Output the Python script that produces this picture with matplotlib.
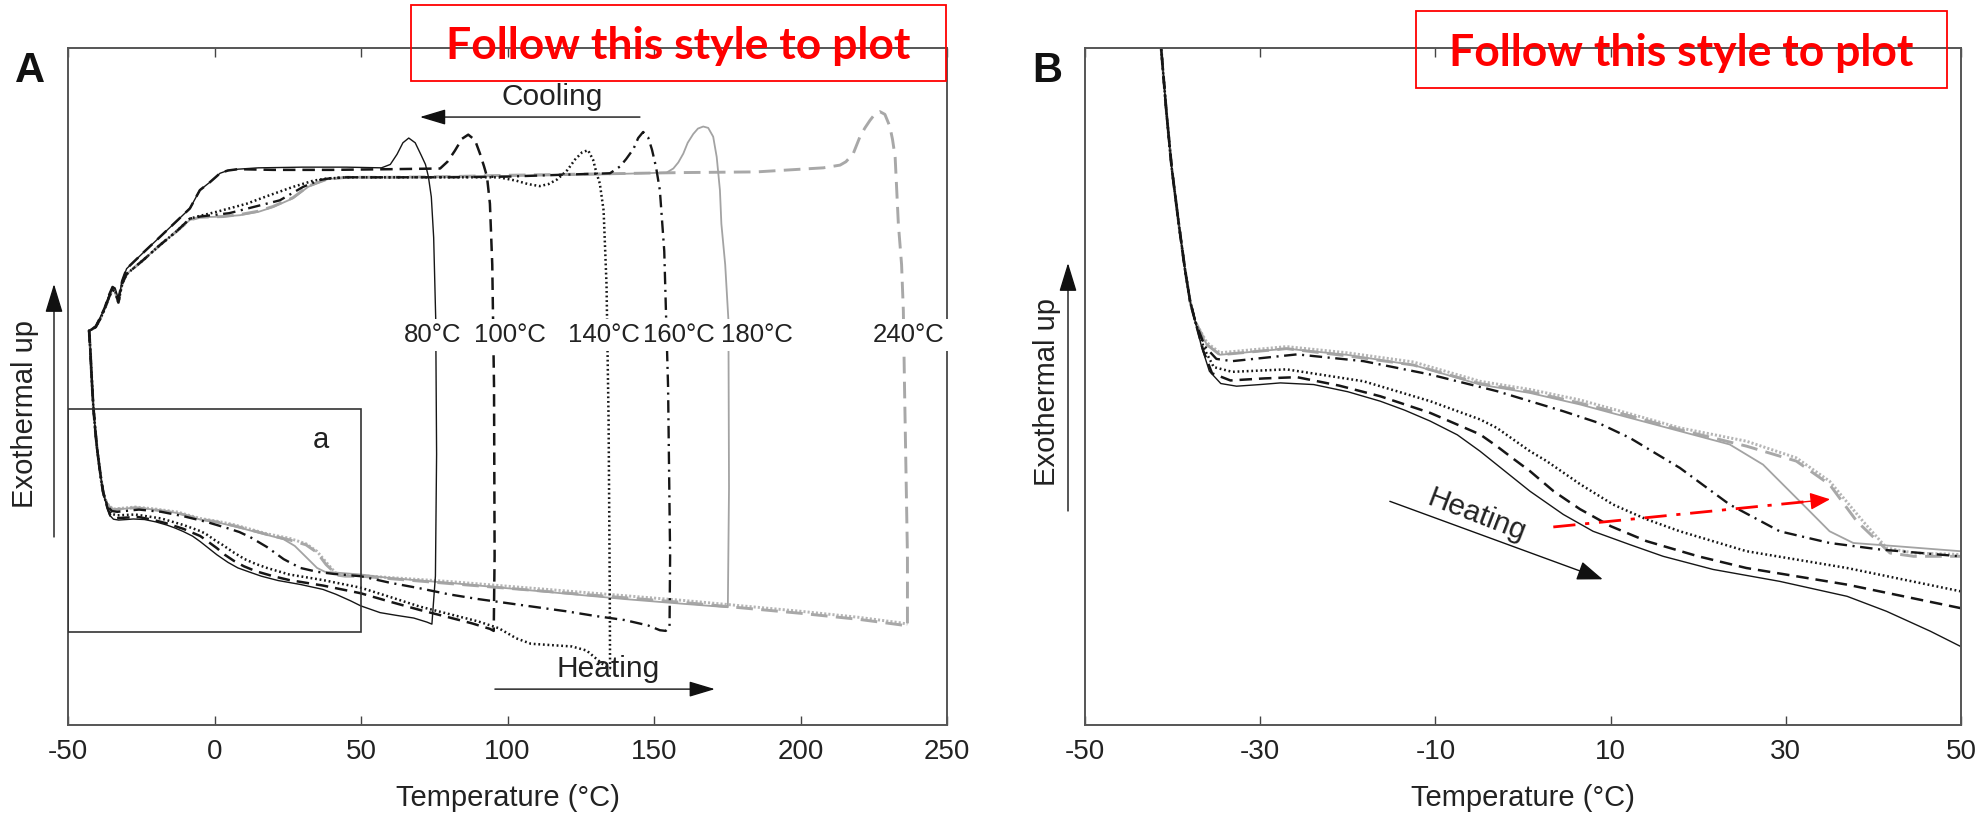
import matplotlib
matplotlib.use("Agg")
import matplotlib.pyplot as plt
from matplotlib.patches import Rectangle, FancyArrowPatch

plt.rcParams['font.family'] = ['Liberation Sans', 'DejaVu Sans']
plt.rcParams['lines.scale_dashes'] = False

# ---------------- data (temperature in degC, heat flow in arbitrary units) -------------
heat80_T = [-42.8, -42.4, -42.0, -41.6, -41.3, -40.7, -40.1, -39.3, -38.6, -38.0, -37.4, -36.7, -35.8, -34.5, -32.7, -30.0, -27.7, -23.9, -20.0, -16.3, -13.5, -10.6, -7.5, -4.9, -1.1, 0.8, 4.6, 8.0, 12.2, 16.0, 21.7, 29.3, 37.0, 41.5, 46.5, 49.9, 56.5, 62.0, 68.0, 72.5, 74.2]
heat80_Y = [58.3, 55.5, 52.0, 48.8, 46.7, 43.6, 40.9, 38.2, 36.0, 34.4, 33.4, 32.2, 31.0, 30.4, 30.27, 30.35, 30.43, 30.35, 30.0, 29.54, 29.1, 28.57, 27.9, 27.1, 25.8, 25.15, 24.02, 23.2, 22.55, 21.98, 21.34, 20.76, 20.03, 19.30, 18.33, 17.6, 16.6, 16.2, 15.8, 15.2, 14.9]

heat100_T = [-42.8, -42.4, -42.0, -41.6, -41.3, -40.7, -40.1, -39.3, -38.6, -38.0, -37.4, -36.5, -35.5, -33.4, -29.5, -25.8, -21.0, -16.3, -10.6, -4.9, -3.0, -1.0, 0.8, 3.5, 6.5, 10.0, 14.1, 20.0, 25.5, 37.0, 49.9, 60.0, 70.0, 80.0, 88.0, 94.0, 95.3]
heat100_Y = [58.3, 55.5, 52.0, 48.8, 46.7, 43.6, 40.9, 38.2, 36.0, 34.4, 33.4, 32.0, 30.9, 30.55, 30.65, 30.71, 30.3, 29.78, 28.97, 27.92, 27.35, 26.7, 26.13, 25.15, 24.28, 23.45, 22.72, 21.98, 21.41, 20.60, 19.46, 18.2, 17.0, 15.9, 15.0, 14.2, 13.9]

heat140_T = [-42.8, -42.4, -42.0, -41.6, -41.3, -40.7, -40.1, -39.3, -38.6, -38.0, -37.4, -36.4, -35.3, -33.2, -27.0, -18.2, -10.6, -4.9, -3.0, 0.8, 2.7, 6.5, 10.3, 14.0, 17.9, 25.5, 37.0, 49.9, 60.0, 70.0, 80.0, 90.0, 97.0, 103.0, 108.0, 115.0, 122.0, 127.0, 130.0, 133.0, 135.0]
heat140_Y = [58.3, 55.5, 52.0, 48.8, 46.7, 43.6, 40.9, 38.2, 36.0, 34.4, 33.4, 32.1, 31.2, 30.97, 31.09, 30.51, 29.54, 28.65, 28.24, 27.10, 26.62, 25.5, 24.50, 23.8, 23.20, 22.23, 21.41, 20.28, 18.9, 17.5, 16.4, 15.3, 14.3, 12.8, 12.0, 11.8, 11.6, 11.0, 9.9, 8.8, 8.4]

heat160_T = [-42.8, -42.4, -42.0, -41.6, -41.3, -40.7, -40.1, -39.3, -38.6, -38.0, -37.4, -36.3, -35.0, -33.2, -25.8, -18.2, -10.6, -3.0, 0.8, 4.6, 8.5, 12.2, 17.9, 23.6, 29.3, 35.0, 40.8, 49.9, 60.0, 70.0, 80.0, 90.0, 100.0, 110.0, 120.0, 130.0, 140.0, 148.0, 152.0, 154.0, 155.3]
heat160_Y = [58.3, 55.5, 52.0, 48.8, 46.7, 43.6, 40.9, 38.2, 36.0, 34.4, 33.4, 32.2, 31.6, 31.49, 31.82, 31.49, 30.84, 30.03, 29.54, 29.05, 28.5, 27.75, 26.29, 24.50, 23.20, 22.63, 22.31, 21.98, 21.0, 20.2, 19.3, 18.6, 18.0, 17.4, 16.8, 16.1, 15.5, 14.7, 14.0, 13.9, 14.4]

heat180_T = [-42.8, -42.4, -42.0, -41.6, -41.3, -40.7, -40.1, -39.3, -38.6, -38.0, -37.4, -36.1, -34.6, -27.0, -20.1, -12.5, -4.9, 0.8, 6.5, 12.0, 17.9, 23.6, 27.4, 31.2, 35.0, 37.7, 42.7, 49.9, 60.0, 80.0, 100.0, 120.0, 140.0, 160.0, 172.0, 175.2]
heat180_Y = [58.3, 55.5, 52.0, 48.8, 46.7, 43.6, 40.9, 38.2, 36.0, 34.4, 33.4, 32.3, 31.8, 32.1, 31.8, 31.3, 30.35, 29.94, 29.38, 28.75, 28.08, 27.43, 26.45, 24.83, 23.20, 22.63, 22.47, 22.23, 21.7, 21.0, 20.2, 19.4, 18.6, 17.9, 17.5, 17.4]

heat240_T = [-42.8, -42.4, -42.0, -41.6, -41.3, -40.7, -40.1, -39.3, -38.6, -38.0, -37.4, -36.1, -34.6, -27.0, -20.1, -12.5, -4.9, 0.8, 6.5, 12.0, 17.9, 25.5, 31.2, 35.0, 38.1, 41.9, 44.6, 49.9, 80.0, 120.0, 160.0, 200.0, 220.0, 234.0, 236.5]
heat240_Y = [58.3, 55.5, 52.0, 48.8, 46.7, 43.6, 40.9, 38.2, 36.0, 34.4, 33.4, 32.3, 31.8, 32.1, 31.75, 31.3, 30.4, 30.0, 29.45, 28.85, 28.15, 27.35, 26.62, 25.48, 23.69, 22.14, 21.98, 21.98, 20.9, 19.5, 18.1, 16.5, 15.6, 14.8, 14.6]

heatdot_T = [-42.8, -42.4, -42.0, -41.6, -41.3, -40.7, -40.1, -39.3, -38.6, -38.0, -37.4, -36.1, -34.6, -27.0, -20.1, -12.5, -4.9, 0.8, 6.5, 12.0, 17.9, 25.5, 31.2, 35.0, 38.8, 41.5, 44.6, 49.9, 80.0, 120.0, 160.0, 200.0, 220.0, 234.0, 236.5]
heatdot_Y = [58.3, 55.5, 52.0, 48.8, 46.7, 43.6, 40.9, 38.2, 36.0, 34.4, 33.4, 32.4, 31.9, 32.2, 31.9, 31.45, 30.51, 30.11, 29.6, 28.95, 28.24, 27.59, 26.78, 25.64, 23.69, 22.39, 22.14, 22.07, 21.2, 19.8, 18.4, 16.8, 15.9, 15.1, 14.9]

cool80_T = [75.4, 75.8, 75.5, 74.8, 74.0, 73.0, 72.0, 70.5, 68.5, 66.3, 64.3, 62.3, 60.0, 57.0, 45.0, 30.0, 15.0]
cool80_Y = [22.0, 40.0, 60.0, 72.0, 78.0, 81.0, 82.8, 84.2, 86.0, 86.7, 86.0, 84.3, 82.8, 82.3, 82.4, 82.4, 82.3]

cool100_T = [95.6, 95.4, 94.8, 94.0, 93.0, 92.0, 90.6, 88.9, 86.6, 84.5, 82.0, 79.5, 77.0, 60.0, 40.0, 20.0]
cool100_Y = [25.0, 50.0, 68.0, 77.0, 81.0, 82.5, 84.4, 86.4, 87.2, 86.6, 84.8, 83.2, 82.2, 82.1, 82.0, 82.0]

cool140_T = [134.9, 134.5, 133.8, 132.8, 131.5, 130.4, 129.2, 127.5, 125.5, 123.0, 120.5, 117.0, 114.0, 111.0, 107.0, 103.0, 97.0, 80.0, 60.0, 45.0, 38.0, 33.7, 26.9, 17.8, 11.0, 0.7, -5.0, -8.4]
cool140_Y = [20.0, 45.0, 65.0, 76.0, 80.0, 81.5, 83.5, 84.9, 84.6, 83.5, 82.0, 80.6, 79.9, 79.6, 79.9, 80.4, 80.9, 80.9, 80.9, 80.9, 80.7, 80.4, 79.5, 78.1, 77.0, 75.8, 75.2, 74.8]

cool160_T = [155.5, 154.8, 153.5, 152.0, 150.7, 149.3, 148.0, 146.3, 144.6, 143.0, 140.5, 138.4, 135.0, 120.0, 100.0, 80.0, 60.0, 45.0, 40.0, 36.0, 30.3, 22.3, 13.2, 5.0, -5.0, -8.4]
cool160_Y = [25.0, 50.0, 70.0, 79.0, 82.4, 85.0, 86.8, 87.6, 86.7, 85.1, 83.6, 82.5, 81.5, 81.3, 81.0, 80.9, 80.9, 80.9, 80.8, 80.5, 79.5, 77.5, 76.5, 75.6, 75.1, 74.8]

cool180_T = [175.6, 175.4, 174.3, 173.0, 172.5, 171.4, 170.2, 168.5, 166.8, 165.0, 163.4, 161.5, 160.0, 158.3, 156.6, 154.3, 130.0, 100.0, 80.0, 60.0, 45.0, 38.3, 32.0, 26.8, 20.0, 15.0, 8.7, 3.0, -5.0, -8.4]
cool180_Y = [35.0, 59.8, 68.0, 74.0, 79.0, 83.9, 86.9, 88.2, 88.4, 88.1, 87.3, 86.0, 84.4, 83.1, 82.2, 81.6, 81.3, 81.1, 81.0, 80.9, 80.9, 80.6, 79.5, 77.8, 76.5, 75.8, 75.3, 75.1, 75.0, 74.6]

cool240_T = [236.5, 235.5, 235.1, 234.5, 233.4, 232.3, 231.4, 230.5, 228.8, 227.1, 225.5, 223.7, 222.0, 220.3, 218.0, 215.5, 213.5, 207.8, 185.0, 160.0, 130.0, 100.0, 80.0, 60.0, 45.0, 38.3, 32.0, 26.8, 20.0, 15.0, 8.7, 3.0, -5.0, -8.4]
cool240_Y = [25.0, 50.0, 61.2, 68.0, 74.0, 83.9, 86.5, 88.4, 90.2, 90.6, 90.3, 89.3, 88.2, 86.9, 84.4, 83.2, 82.7, 82.3, 81.7, 81.6, 81.4, 81.2, 81.0, 80.9, 80.9, 80.6, 79.6, 77.9, 76.6, 75.9, 75.4, 75.1, 75.0, 74.6]

black_left_T = [8.0, 4.5, 1.9, -1.5, -5.0, -8.4, -13.0, -18.6, -24.0, -30.0, -31.5, -32.8, -33.8, -34.8, -36.0, -37.5, -39.0, -40.5, -42.0, -42.8]
black_left_Y = [82.1, 81.9, 81.5, 80.2, 79.0, 76.3, 74.4, 72.1, 69.9, 67.4, 65.6, 62.9, 64.4, 64.7, 63.5, 61.6, 60.2, 58.9, 58.4, 58.3]

gray_left_T = [-13.0, -18.6, -24.0, -30.0, -31.5, -32.8, -33.8, -34.8, -36.0, -37.5, -39.0, -40.5, -42.0, -42.8]
gray_left_Y = [72.9, 70.9, 68.8, 66.6, 65.2, 62.4, 63.9, 64.3, 63.2, 61.4, 60.0, 58.8, 58.4, 58.3]

peak_labels = ['80\u00b0C', '100\u00b0C', '140\u00b0C', '160\u00b0C', '180\u00b0C', '240\u00b0C']
peak_label_T = [74.5, 101.0, 133.0, 158.5, 185.0, 237.0]

ticksA = [-50, 0, 50, 100, 150, 200, 250]
ticklabelsA = ['-50', '0', '50', '100', '150', '200', '250']
ticksB = [-50, -30, -10, 10, 30, 50]
ticklabelsB = ['-50', '-30', '-10', '10', '30', '50']

# ---------------- styles -------------------
BLK = '#161616'
st80 = dict(color=BLK, lw=1.0, ls='-')
st100 = dict(color=BLK, lw=1.8, dashes=(9, 5))
st140 = dict(color=BLK, lw=1.8, dashes=(1.3, 2.0))
st160 = dict(color=BLK, lw=1.7, dashes=(9, 4, 1.5, 4))
st180 = dict(color='#a3a3a3', lw=1.3, ls='-')
st240 = dict(color='#a8a8a8', lw=2.1, dashes=(12, 6))
stdot = dict(color='#b5b5b5', lw=2.1, dashes=(1.5, 1.5))

W, H = 1980, 815
fig = plt.figure(figsize=(W / 100, H / 100), dpi=100)
fig.patch.set_facecolor('white')

axA = fig.add_axes([68 / W, 1 - 725 / H, 879 / W, 677 / H])
axB = fig.add_axes([1085 / W, 1 - 725 / H, 876 / W, 677 / H])

# panel A loops (gray first, black on top)
axA.plot(heatdot_T, heatdot_Y, **stdot)
axA.plot(heat240_T + cool240_T + gray_left_T, heat240_Y + cool240_Y + gray_left_Y, **st240)
axA.plot(heat180_T + cool180_T + gray_left_T, heat180_Y + cool180_Y + gray_left_Y, **st180)
axA.plot(heat160_T + cool160_T + gray_left_T, heat160_Y + cool160_Y + gray_left_Y, **st160)
axA.plot(heat140_T + cool140_T + gray_left_T, heat140_Y + cool140_Y + gray_left_Y, **st140)
axA.plot(heat100_T + cool100_T + black_left_T, heat100_Y + cool100_Y + black_left_Y, **st100)
axA.plot(heat80_T + cool80_T + black_left_T, heat80_Y + cool80_Y + black_left_Y, **st80)

# panel B: heating curves magnified
axB.plot(heatdot_T, heatdot_Y, **stdot)
axB.plot(heat240_T, heat240_Y, **st240)
axB.plot(heat180_T, heat180_Y, **st180)
axB.plot(heat160_T, heat160_Y, **st160)
axB.plot(heat140_T, heat140_Y, **st140)
axB.plot(heat100_T, heat100_Y, **st100)
axB.plot(heat80_T, heat80_Y, **st80)

axA.set_xlim(-50, 250)
axA.set_ylim(0, 100)
axB.set_xlim(-50, 50)
axB.set_ylim(13.76, 46.75)

for ax, tk, tl in ((axA, ticksA, ticklabelsA), (axB, ticksB, ticklabelsB)):
    ax.set_xticks(tk)
    ax.set_xticklabels(tl)
    ax.set_yticks([])
    ax.tick_params(axis='x', direction='in', length=6.5, width=1.0, top=True,
                   labelsize=20, pad=10, color='#444444', labelcolor='#222222')
    for sp in ax.spines.values():
        sp.set_color('#555555')
        sp.set_linewidth(1.4)
    ax.set_xlabel('Temperature (\u00b0C)', fontsize=21, labelpad=14, color='#222222')

# peak temperature labels
for lab, t in zip(peak_labels, peak_label_T):
    axA.text(t, 57.6, lab, ha='center', va='center', fontsize=18.5, color='#222222',
             bbox=dict(facecolor='white', edgecolor='none', pad=3), zorder=5)

# zoom box "a"
axA.add_patch(Rectangle((-50, 13.76), 100, 32.99, fill=False, edgecolor='#333333', lw=1.2, zorder=4))
axA.text(36.2, 42.1, 'a', ha='center', va='center', fontsize=21, color='#222222')

def data_arrow(ax, p0, p1, color='#111111', lw=1.0, hl=0.8, hw=0.24, ms=20, zorder=6):
    ax.annotate('', xy=p1, xytext=p0,
                arrowprops=dict(arrowstyle='-|>,head_length=%g,head_width=%g' % (hl, hw),
                                mutation_scale=ms, lw=lw, color=color,
                                shrinkA=0, shrinkB=0), zorder=zorder)

# Cooling / Heating annotations in A
axA.text(115.2, 92.75, 'Cooling', ha='center', va='center', fontsize=21.5, color='#222222')
data_arrow(axA, (145.2, 89.8), (70.1, 89.8))
axA.text(134.3, 8.3, 'Heating', ha='center', va='center', fontsize=21.5, color='#222222')
data_arrow(axA, (95.7, 5.3), (170.8, 5.3))

# Heating annotation in B
axB.text(-5.25, 23.95, 'Heating', ha='center', va='center', fontsize=21.5, color='#222222',
         rotation=-21, rotation_mode='anchor')
data_arrow(axB, (-15.2, 24.66), (9.1, 20.86), hl=0.8, hw=0.3)

# red dash-dot arrow in B
rx0, ry0, rx1, ry1 = 3.46, 23.41, 35.05, 24.76
axB.plot([rx0, rx0 + 0.97 * (rx1 - rx0)], [ry0, ry0 + 0.97 * (ry1 - ry0)],
         color='#ff0000', lw=2.0, dashes=(16, 7, 3, 7), zorder=7)
data_arrow(axB, (rx0 + 0.9 * (rx1 - rx0), ry0 + 0.9 * (ry1 - ry0)), (rx1, ry1),
           color='#ff0000', lw=1.0, hl=0.65, hw=0.28, ms=19, zorder=8)

# y labels with arrows (figure pixel coordinates)
def fig_arrow(x, y0, y1):
    fig.add_artist(FancyArrowPatch((x / W, 1 - y0 / H), (x / W, 1 - y1 / H),
                                   transform=fig.transFigure,
                                   arrowstyle='-|>,head_length=0.85,head_width=0.26',
                                   mutation_scale=21, lw=1.0, color='#111111',
                                   shrinkA=0, shrinkB=0))

fig.text(25 / W, 1 - 414 / H, 'Exothermal up', rotation=90, ha='center', va='center',
         fontsize=21, color='#222222')
fig_arrow(54, 537, 284)
fig.text(1047 / W, 1 - 392 / H, 'Exothermal up', rotation=90, ha='center', va='center',
         fontsize=21, color='#222222')
fig_arrow(1068, 511, 263)

# panel letters
fig.text(30 / W, 1 - 71 / H, 'A', ha='center', va='center', fontsize=30, fontweight='bold', color='#111111')
fig.text(1047 / W, 1 - 71 / H, 'B', ha='center', va='center', fontsize=30, fontweight='bold', color='#111111')

# red "Follow this style to plot" boxes
for (x0, y0, x1, y1, bl) in ((411, 5, 946, 81, 59), (1416, 11, 1947, 88, 66)):
    fig.add_artist(Rectangle((x0 / W, 1 - y1 / H), (x1 - x0) / W, (y1 - y0) / H,
                             transform=fig.transFigure, fill=False, edgecolor='#ff0000', lw=1.3))
    fig.text((x0 + x1) / 2 / W, 1 - bl / H, 'Follow this style to plot', ha='center', va='baseline',
             fontsize=32, fontweight='bold', color='#ff0000', family=['Lato', 'DejaVu Sans'])

fig.savefig('out.png', dpi=100, facecolor='white')
